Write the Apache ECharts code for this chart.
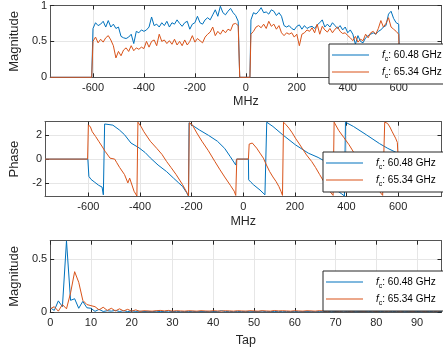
<!DOCTYPE html>
<html>
<head>
<meta charset="utf-8">
<script src="https://cdn.jsdelivr.net/npm/echarts@6/dist/echarts.min.js"></script>
<style>
html,body{margin:0;padding:0;background:#fff;}
#c{width:443px;height:348px;}
</style>
</head>
<body>
<div id="c"></div>
<script>
// ---------------- DATA ----------------
const seriesNames = ['60.48 GHz', '65.34 GHz'];

// Magnitude vs frequency (MHz), sampled every 10 MHz on the occupied bands
const magFreqLeft = [-600,-590,-580,-570,-560,-550,-540,-530,-520,-510,-500,-490,-480,-470,-460,-450,-440,-430,-420,-410,-400,-390,-380,-370,-360,-350,-340,-330,-320,-310,-300,-290,-280,-270,-260,-250,-240,-230,-220,-210,-200,-190,-180,-170,-160,-150,-140,-130,-120,-110,-100,-90,-80,-70,-60,-50,-40,-30];
const magFreqRight = [20,30,40,50,60,70,80,90,100,110,120,130,140,150,160,170,180,190,200,210,220,230,240,250,260,270,280,290,300,310,320,330,340,350,360,370,380,390,400,410,420,430,440,450,460,470,480,490,500,510,520,530,540,550,560,570,580,590,600];
const magBlueLeft = [0.68,0.76,0.72,0.74,0.78,0.70,0.79,0.70,0.74,0.68,0.70,0.57,0.55,0.54,0.56,0.60,0.47,0.64,0.62,0.66,0.64,0.66,0.70,0.84,0.72,0.74,0.70,0.76,0.72,0.78,0.70,0.76,0.74,0.80,0.75,0.71,0.76,0.78,0.67,0.74,0.76,0.85,0.76,0.74,0.80,0.83,0.80,0.87,0.94,0.85,0.99,0.90,0.87,0.92,0.96,0.90,0.86,0.78];
const magOrangeLeft = [0.50,0.56,0.48,0.53,0.49,0.55,0.58,0.52,0.44,0.27,0.36,0.30,0.38,0.41,0.36,0.44,0.37,0.41,0.39,0.42,0.40,0.50,0.42,0.50,0.52,0.44,0.60,0.50,0.52,0.47,0.51,0.46,0.53,0.45,0.50,0.44,0.52,0.45,0.50,0.58,0.49,0.54,0.51,0.48,0.56,0.60,0.63,0.70,0.58,0.64,0.60,0.66,0.62,0.67,0.65,0.74,0.75,0.72];
const magBlueRight = [0.80,0.90,0.88,0.92,0.97,0.90,0.91,0.88,0.94,0.92,0.86,0.90,0.85,0.72,0.70,0.72,0.68,0.66,0.71,0.73,0.67,0.72,0.68,0.70,0.71,0.68,0.73,0.76,0.80,0.70,0.74,0.70,0.76,0.72,0.68,0.72,0.66,0.70,0.62,0.66,0.60,0.46,0.58,0.50,0.48,0.55,0.58,0.60,0.62,0.60,0.64,0.66,0.70,0.72,0.88,0.92,0.82,0.76,0.74];
const magOrangeRight = [0.60,0.64,0.70,0.72,0.69,0.74,0.68,0.78,0.71,0.74,0.67,0.72,0.62,0.58,0.62,0.60,0.62,0.56,0.60,0.44,0.60,0.62,0.66,0.64,0.69,0.62,0.74,0.60,0.71,0.66,0.63,0.68,0.62,0.67,0.70,0.64,0.61,0.62,0.58,0.55,0.51,0.57,0.49,0.53,0.51,0.60,0.55,0.62,0.64,0.60,0.68,0.79,0.70,0.75,0.83,0.70,0.67,0.64,0.60];
// zero-magnitude frequencies outside / between the bands
const magZeroOuterLeft = [-768, -605];
const magZeroGap = [-24, 16];
const magZeroOuterRight = [605, 768];

// Phase vs frequency (MHz) : [freq, phase] break points
const phaseBlue = [[-768,0],[-602,0],[-598,-1.45],[-590,-1.7],[-575,-1.95],[-560,-2.2],[-547,-2.35],[-542,-3.0],[-540,-3.13],[-537,2.95],[-530,2.98],[-520,2.9],[-505,2.85],[-480,2.45],[-460,2.05],[-435,1.35],[-404,0.95],[-380,0.55],[-360,0.1],[-330,-0.5],[-297,-1.05],[-270,-1.6],[-250,-2.0],[-235,-2.3],[-220,-2.8],[-212,-3.12],[-210,3.05],[-198,2.85],[-170,2.45],[-135,2.0],[-100,1.5],[-72,0.9],[-50,0.2],[-29,-0.5],[-26,0],[20,0],[21,-1.74],[30,-1.95],[40,-2.16],[65,-2.6],[84,-3.0],[88,-3.12],[91,3.1],[115,2.74],[153,2.04],[202,1.2],[252,0.5],[290,0.14],[326,-0.3],[360,-2.6],[380,-2.9],[392,-3.1],[396,3.1],[427,2.74],[477,2.04],[528,1.3],[560,0.9],[598,0.5],[601,0],[768,0]];
const phaseOrange = [[-768,0],[-603,0],[-600,2.88],[-592,2.7],[-585,2.3],[-572,1.9],[-560,1.5],[-548,1.1],[-535,0.65],[-516,0.08],[-498,0],[-490,-0.3],[-479,-0.7],[-460,-1.3],[-447,-2.0],[-440,-1.6],[-423,-2.7],[-412,-3.1],[-408,3.1],[-395,2.7],[-385,2.3],[-360,1.5],[-335,0.9],[-315,0.4],[-297,-0.2],[-280,-0.7],[-260,-1.3],[-235,-2.15],[-216,-2.9],[-212,-3.1],[-209,3.05],[-198,2.9],[-180,2.2],[-160,1.5],[-135,0.7],[-110,-0.2],[-90,-0.9],[-72,-1.5],[-50,-2.2],[-35,-2.7],[-29,-3.05],[-25,0],[20,0],[23,1.26],[30,1.4],[35,1.35],[52,0.92],[65,0.5],[78,0.08],[90,-0.5],[102,-1.04],[115,-1.5],[127,-1.88],[138,-2.3],[146,-2.7],[152,-3.05],[156,3.1],[165,2.9],[177,2.6],[190,2.2],[202,1.76],[215,1.35],[228,0.92],[245,0.35],[265,-0.2],[280,-0.7],[296,-1.3],[315,-2.0],[335,-2.7],[348,-3.05],[352,3.1],[370,2.4],[390,1.8],[410,1.2],[427,0.6],[460,-0.5],[490,-1.5],[520,-2.5],[540,-3.05],[548,3.1],[559,3.0],[568,2.7],[577,2.3],[590,1.76],[597,1.4],[600,0],[768,0]];

// Tap magnitudes (tap 0..96)
const tapBlue = [0.04,0.015,0.105,0.05,0.67,0.11,0.125,0.035,0.10,0.04,0.035,0.006,0.025,0.005,0.012,0.008,0.015,0.005,0.012,0.004,0.01,0.006,0.008,0.004,0.006,0.003,0.007,0.004,0.005,0.008,0.004,0.006,0.003,0.005,0.004,0.006,0.003,0.005,0.004,0.006,0.005,0.004,0.012,0.004,0.006,0.003,0.005,0.004,0.006,0.003,0.005,0.004,0.008,0.003,0.005,0.004,0.006,0.003,0.005,0.004,0.006,0.003,0.005,0.004,0.006,0.003,0.005,0.004,0.006,0.003,0.005,0.004,0.008,0.004,0.006,0.003,0.005,0.004,0.006,0.003,0.005,0.004,0.006,0.003,0.005,0.004,0.006,0.003,0.005,0.004,0.006,0.003,0.005,0.004,0.006,0.003,0.005];
const tapOrange = [0.03,0.05,0.008,0.07,0.03,0.18,0.38,0.28,0.11,0.07,0.06,0.05,0.02,0.045,0.015,0.035,0.01,0.03,0.01,0.025,0.008,0.02,0.006,0.012,0.01,0.008,0.012,0.015,0.01,0.015,0.008,0.012,0.01,0.008,0.012,0.01,0.008,0.012,0.01,0.008,0.012,0.01,0.008,0.012,0.01,0.008,0.012,0.01,0.008,0.012,0.01,0.008,0.012,0.01,0.008,0.014,0.01,0.012,0.01,0.008,0.012,0.01,0.008,0.012,0.01,0.008,0.012,0.01,0.008,0.012,0.01,0.008,0.012,0.01,0.008,0.012,0.01,0.008,0.012,0.01,0.008,0.012,0.01,0.008,0.012,0.01,0.008,0.012,0.01,0.008,0.012,0.01,0.008,0.012,0.01,0.008,0.012];

// Tick values
const freqTicks = [-600,-400,-200,0,200,400,600];
const tapTicks = [0,10,20,30,40,50,60,70,80,90];
const magTicks = [0,0.5,1];
const phaseTicks = [-2,0,2];
const tapMagTicks = [0,0.5];

// ---------------- BUILD ----------------
const FONT = "'Liberation Sans', Arial, Helvetica, sans-serif";
const BLUE = '#0072BD', ORANGE = '#D95319';
const AX = '#262626', FRAME = '#555555', GRIDC = '#e6e6e6';

function pairs(xs, ys){ return xs.map((x,i)=>[x, ys[i]]); }
function zeros(xs){ return xs.map(x=>[x,0]); }
function magSeries(left, right){
  return [].concat(zeros(magZeroOuterLeft), pairs(magFreqLeft, left), zeros(magZeroGap),
    pairs(magFreqRight, right), zeros(magZeroOuterRight));
}
function idxPairs(arr){ return arr.map((v,i)=>[i,v]); }

const grids = [
  {left:31, top:4, right:1.5, height:73.3},
  {left:31, top:121.7, right:1.5, height:74.8},
  {left:31, top:240.7, right:1.5, height:74.3}
];
const xr = [[-768,768],[-768,768],[0,96]];
const xt = [freqTicks, freqTicks, tapTicks];
const yr = [[0,1],[-Math.PI,Math.PI],[0,0.672]];
const yt = [magTicks, phaseTicks, tapMagTicks];
const xNames = ['MHz','MHz','Tap'];
const yNames = ['Magnitude','Phase','Magnitude'];
const xNameGaps = [18, 18.5, 22];

const xAxis = [], yAxis = [];
for (let g=0; g<3; g++){
  xAxis.push({
    gridIndex:g, type:'value', min:xr[g][0], max:xr[g][1], position:'bottom',
    name:xNames[g], nameLocation:'middle', nameGap:xNameGaps[g],
    nameTextStyle:{fontFamily:FONT, fontSize:12.5, color:AX},
    axisLine:{show:true, onZero:false, lineStyle:{color:FRAME, width:1}},
    axisTick:{show:true, inside:true, length:4, customValues:xt[g], lineStyle:{color:AX}},
    axisLabel:{show:true, margin:5, customValues:xt[g], fontFamily:FONT, fontSize:11, color:AX},
    splitLine:{show:true, lineStyle:{color:GRIDC, width:1}}
  });
  xAxis.push({
    gridIndex:g, type:'value', min:xr[g][0], max:xr[g][1], position:'top',
    axisLine:{show:true, onZero:false, lineStyle:{color:FRAME, width:1}},
    axisTick:{show:true, inside:true, length:4, customValues:xt[g], lineStyle:{color:AX}},
    axisLabel:{show:false, customValues:xt[g]},
    splitLine:{show:false}
  });
  yAxis.push({
    gridIndex:g, type:'value', min:yr[g][0], max:yr[g][1], position:'left',
    name:yNames[g], nameLocation:'middle', nameGap:24,
    nameTextStyle:{fontFamily:FONT, fontSize:13, color:AX},
    axisLine:{show:true, onZero:false, lineStyle:{color:FRAME, width:1}},
    axisTick:{show:true, inside:true, length:4, customValues:yt[g], lineStyle:{color:AX}},
    axisLabel:{show:true, margin:3, customValues:yt[g], fontFamily:FONT, fontSize:11, color:AX},
    splitLine:{show:true, lineStyle:{color:GRIDC, width:1}}
  });
  yAxis.push({
    gridIndex:g, type:'value', min:yr[g][0], max:yr[g][1], position:'right',
    axisLine:{show:true, onZero:false, lineStyle:{color:FRAME, width:1}},
    axisTick:{show:true, inside:true, length:4, customValues:yt[g], lineStyle:{color:AX}},
    axisLabel:{show:false, customValues:yt[g]},
    splitLine:{show:false}
  });
}

function line(name, color, g, data){
  return {
    name:name, type:'line', xAxisIndex:2*g, yAxisIndex:2*g, data:data,
    symbol:'none', showSymbol:false, clip:false, z:2,
    lineStyle:{color:color, width:1}, itemStyle:{color:color}
  };
}
const series = [
  line(seriesNames[0], BLUE, 0, magSeries(magBlueLeft, magBlueRight)),
  line(seriesNames[1], ORANGE, 0, magSeries(magOrangeLeft, magOrangeRight)),
  line(seriesNames[0], BLUE, 1, phaseBlue),
  line(seriesNames[1], ORANGE, 1, phaseOrange),
  line(seriesNames[0], BLUE, 2, idxPairs(tapBlue)),
  line(seriesNames[1], ORANGE, 2, idxPairs(tapOrange))
];

function legend(left, top){
  return {
    data:seriesNames.map(n=>({name:n, icon:'rect'})), orient:'vertical', left:left, top:top,
    backgroundColor:'#ffffff', borderColor:'#262626', borderWidth:1,
    padding:[3,10,4,3], itemGap:1, itemWidth:37, itemHeight:1,
    selectedMode:false, z:10,
    formatter:function(n){ return '{i|f}{s|c}{t|: ' + n + '}'; },
    textStyle:{
      fontFamily:FONT, fontSize:10, color:'#000', lineHeight:16,
      rich:{
        i:{fontFamily:FONT, fontSize:10, fontStyle:'italic', color:'#000', lineHeight:16, padding:[0,0,0,8]},
        s:{fontFamily:FONT, fontSize:7, color:'#000', lineHeight:7, verticalAlign:'bottom'},
        t:{fontFamily:FONT, fontSize:10, color:'#000', lineHeight:16}
      }
    }
  };
}

const chart = echarts.init(document.getElementById('c'), null, {renderer:'canvas'});
chart.setOption({
  animation:false,
  backgroundColor:'#ffffff',
  grid:grids,
  xAxis:xAxis,
  yAxis:yAxis,
  legend:[legend(329,44), legend(323,152), legend(323,271)],
  series:series
});
</script>
</body>
</html>
